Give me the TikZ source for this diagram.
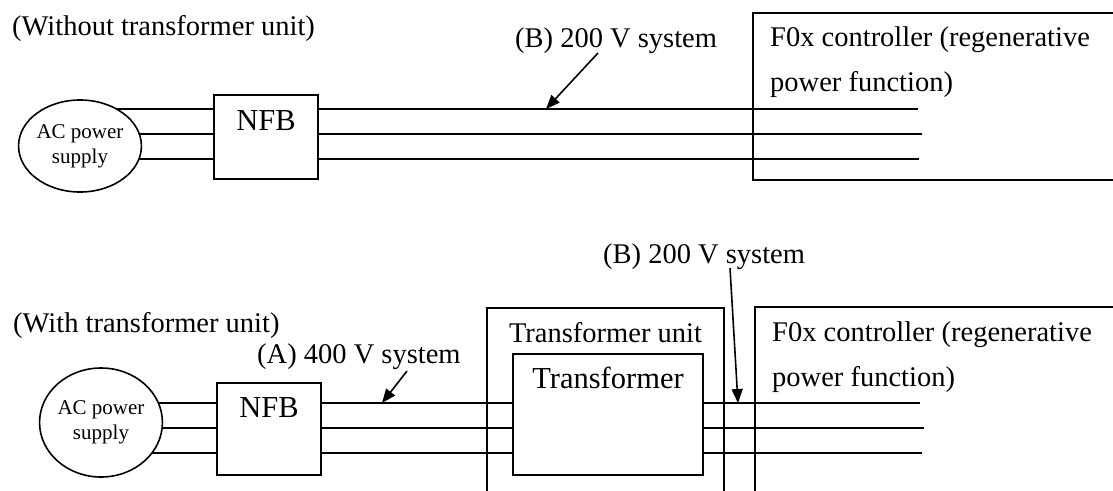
\documentclass[tikz,border=0pt]{standalone}
\usepackage{fontspec}
\setmainfont{Liberation Serif}
\usetikzlibrary{shapes.geometric,arrows.meta,backgrounds}
\begin{document}
\begin{tikzpicture}[x=1pt,y=-1pt,
  wire/.style={line width=1.6pt},
  frame/.style={line width=1.6pt},
  box/.style={draw,line width=1.6pt,inner sep=0pt},
  src/.style={draw,ellipse,line width=1.6pt,inner sep=0pt,fill=white,align=center,font=\fontsize{21}{25}\selectfont},
  lbl/.style={inner sep=0pt,font=\fontsize{28.5}{45}\selectfont},
  big/.style={inner sep=0pt,font=\fontsize{30.5}{36}\selectfont},
  pointer/.style={line width=1.6pt,-{Triangle[length=14pt,width=11pt]}},
]
\useasboundingbox (0,0) rectangle (1113,490);

% ---------- Without transformer unit ----------
\node[lbl, anchor=base west] (t1) at (12,35) {(Without transformer unit)};
\node[src, minimum width=109pt, minimum height=92pt] (ac1) at (80,146) {AC power\\supply};
\node[box, minimum width=104pt, minimum height=84pt] (nfb1) at (266,137) {};
\node[big, anchor=base] (nfbt1) at (266,130) {NFB};
\draw[frame] (1114,13) -- (753,13) -- (753,180) -- (1114,180);
\node[lbl, anchor=west, align=left] (ctl1) at (770,61.75) {F0x controller (regenerative\\power function)};
\coordinate (c1a) at (918,109);
\coordinate (c1b) at (922,134);
\coordinate (c1c) at (919,159);
\begin{pgfonlayer}{background}
\draw[wire] (ac1.center |- c1a) -- (nfb1.west |- c1a);
\draw[wire] (ac1.center |- c1b) -- (nfb1.west |- c1b);
\draw[wire] (ac1.center |- c1c) -- (nfb1.west |- c1c);
\end{pgfonlayer}
\draw[wire] (nfb1.east |- c1a) -- (c1a);
\draw[wire] (nfb1.east |- c1b) -- (c1b);
\draw[wire] (nfb1.east |- c1c) -- (c1c);
\node[lbl, anchor=base west] (b1) at (515,47) {(B) 200 V system};
\coordinate (p1s) at (598,53);
\coordinate (p1) at (546,109);
\draw[pointer] (p1s) -- (p1);

% ---------- With transformer unit ----------
\node[lbl, anchor=base west] (b2) at (603,263) {(B) 200 V system};
\node[lbl, anchor=base west] (t2) at (13,332) {(With transformer unit)};
\node[lbl, anchor=base west] (a2) at (257,363) {(A) 400 V system};
\node[src, minimum width=114pt, minimum height=109pt] (ac2) at (101,422.5) {AC power\\supply};
\node[box, minimum width=104pt, minimum height=92pt] (nfb2) at (269,429) {};
\node[big, anchor=base] (nfbt2) at (269,417) {NFB};
\draw[frame] (487,491) -- (487,308) -- (724,308) -- (724,491);
\node[lbl, anchor=base] (tut) at (605.5,342) {Transformer unit};
\node[box, minimum width=190pt, minimum height=121pt] (tr) at (608,414.5) {};
\node[big, anchor=base] (trt) at (608,388) {Transformer};
\draw[frame] (1114,307) -- (755,307) -- (755,491);
\node[lbl, anchor=west, align=left] (ctl2) at (772,356.75) {F0x controller (regenerative\\power function)};
\coordinate (c2a) at (920,403);
\coordinate (c2b) at (924,428);
\coordinate (c2c) at (922,453);
\begin{pgfonlayer}{background}
\draw[wire] (ac2.center |- c2a) -- (nfb2.west |- c2a);
\draw[wire] (ac2.center |- c2b) -- (nfb2.west |- c2b);
\draw[wire] (ac2.center |- c2c) -- (nfb2.west |- c2c);
\end{pgfonlayer}
\draw[wire] (nfb2.east |- c2a) -- (tr.west |- c2a);
\draw[wire] (nfb2.east |- c2b) -- (tr.west |- c2b);
\draw[wire] (nfb2.east |- c2c) -- (tr.west |- c2c);
\draw[wire] (tr.east |- c2a) -- (c2a);
\draw[wire] (tr.east |- c2b) -- (c2b);
\draw[wire] (tr.east |- c2c) -- (c2c);
\coordinate (p2s) at (407,371);
\coordinate (p2) at (382,403);
\draw[pointer] (p2s) -- (p2);
\coordinate (p3s) at (730,268);
\coordinate (p3) at (738,403);
\draw[pointer] (p3s) -- (p3);
\end{tikzpicture}
\end{document}
